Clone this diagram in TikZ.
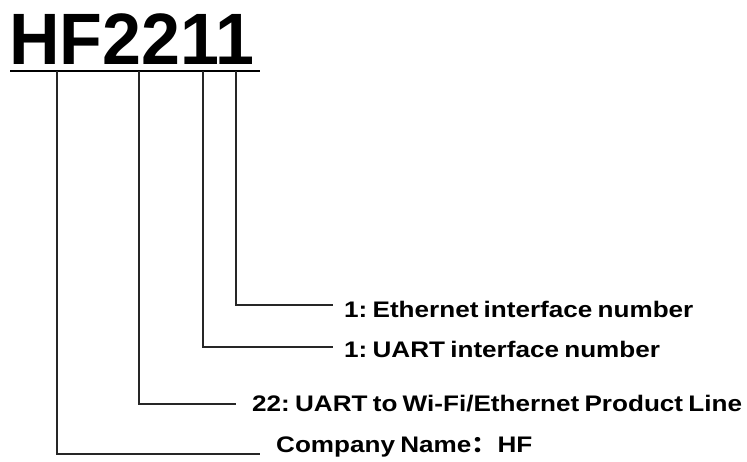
\documentclass[tikz,border=0pt]{standalone}
\usepackage{fontspec}
\setmainfont{Liberation Sans}
\newfontfamily\cjk{Noto Sans CJK SC}
\newcommand{\lbltext}[1]{\scalebox{1.16}[1]{\spaceskip=0.2em\relax\xspaceskip=0.2em\relax #1}}
\begin{document}
\begin{tikzpicture}[x=1pt,y=-1pt,
  conn/.style={draw=black!85, line width=1.3pt},
  uline/.style={draw=black, line width=2.6pt},
  lbl/.style={anchor=base west, inner sep=0pt, font=\fontsize{22.5}{22.5}\selectfont\bfseries},
  ttl/.style={anchor=base west, inner sep=0pt, font=\fontsize{70}{70}\selectfont\bfseries}]
\useasboundingbox (0,0) rectangle (747,461);
\node[ttl] (title) at (9,64) {\scalebox{1}[1.04]{HF2211}};
\coordinate (ull) at (10,71);
\coordinate (ulr) at (260,71);
\draw[uline] (ull) -- (ulr);
\coordinate (t1) at (57,71);
\coordinate (t2) at (139,71);
\coordinate (t3) at (203,71);
\coordinate (t4) at (236,71);
\coordinate (e1) at (260,454);
\coordinate (e2) at (236,404);
\coordinate (e3) at (333,347);
\coordinate (e4) at (333,305);
\node[lbl] (l4) at (344,317) {\lbltext{1: Ethernet interface number}};
\node[lbl] (l3) at (344,357) {\lbltext{1: UART interface number}};
\node[lbl] (l2) at (252,411) {\lbltext{22: UART to Wi-Fi/Ethernet Product Line}};
\node[lbl] (l1) at (276,452) {\lbltext{Company Name{\cjk ：}HF}};
\draw[conn] (t4) |- (e4);
\draw[conn] (t3) |- (e3);
\draw[conn] (t2) |- (e2);
\draw[conn] (t1) |- (e1);
\end{tikzpicture}
\end{document}
